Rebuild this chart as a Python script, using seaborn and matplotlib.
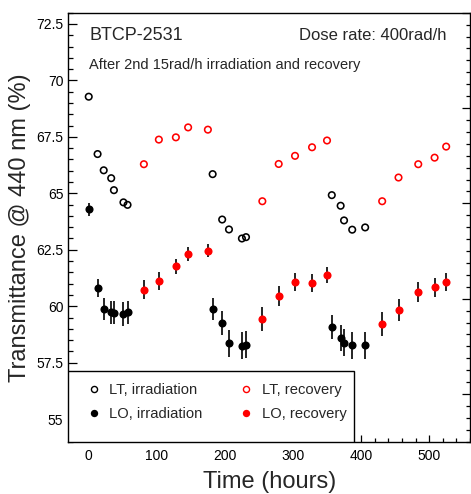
import numpy as np
import pandas as pd
import matplotlib
matplotlib.use("Agg")
import matplotlib.pyplot as plt
from matplotlib.lines import Line2D
from matplotlib.patches import Rectangle
from matplotlib.ticker import MultipleLocator, FuncFormatter
from matplotlib.transforms import blended_transform_factory
import seaborn as sns

# Irradiation steps (hours) and readings
irr_time = [0, 13, 22, 33, 37, 51, 57, 182, 196, 206, 225, 231, 357, 370, 375, 387, 406]
lt_irr = [69.28, 66.74, 66.02, 65.67, 65.14, 64.60, 64.49, 65.85, 63.84, 63.40,
          63.00, 63.06, 64.92, 64.45, 63.80, 63.39, 63.49]
lo_irr = [64.30, 60.82, 59.88, 59.73, 59.72, 59.65, 59.73, 59.88, 59.27, 58.35,
          58.26, 58.30, 59.09, 58.61, 58.39, 58.28, 58.28]
lo_irr_err = [0.29, 0.40, 0.50, 0.51, 0.50, 0.52, 0.51, 0.48, 0.53, 0.60,
              0.59, 0.61, 0.54, 0.58, 0.59, 0.60, 0.60]

# Recovery steps (hours) and readings
rec_time = [81, 103, 128, 146, 175, 255, 279, 303, 328, 350, 431, 455, 484, 508, 525]
lt_rec = [66.29, 67.38, 67.48, 67.92, 67.82, 64.65, 66.30, 66.66, 67.04, 67.34,
          64.65, 65.70, 66.29, 66.58, 67.07]
lo_rec = [60.73, 61.13, 61.77, 62.31, 62.46, 59.43, 60.45, 61.06, 61.03, 61.38,
          59.22, 59.84, 60.63, 60.85, 61.09]
lo_rec_err = [0.43, 0.40, 0.34, 0.30, 0.29, 0.53, 0.44, 0.40, 0.40, 0.37,
              0.53, 0.49, 0.43, 0.42, 0.40]

# axis steps
x_step, x_minor = 100, 20
y_step, y_minor = 2.5, 0.5
right_step, right_minor = 1.0, 0.125   # unlabelled right-hand scale
right_range = (-0.5, 4.0)

sns.set_style("white")
plt.rcParams.update({
    "font.family": ["Liberation Sans", "DejaVu Sans"],
    "axes.axisbelow": False,
    "xtick.labelsize": 10, "ytick.labelsize": 10,
    "xtick.color": "black", "ytick.color": "black",
})

frames = []
for t, v, e, kind, phase in [
    (irr_time, lt_irr, None, "LT", "irradiation"),
    (irr_time, lo_irr, lo_irr_err, "LO", "irradiation"),
    (rec_time, lt_rec, None, "LT", "recovery"),
    (rec_time, lo_rec, lo_rec_err, "LO", "recovery"),
]:
    frames.append(pd.DataFrame({
        "time": t, "value": v,
        "err": e if e is not None else [np.nan] * len(t),
        "kind": kind, "phase": phase,
    }))
df = pd.concat(frames, ignore_index=True)

W, H = 471, 494
fig = plt.figure(figsize=(W / 100, H / 100), dpi=100)
L, R, T, B = 68.3, 470.0, 12.7, 441.7
AW, AH = R - L, B - T
ax = fig.add_axes([L / W, 1 - B / H, AW / W, AH / H])

colors = {"irradiation": "black", "recovery": "red"}

for phase in ["irradiation", "recovery"]:
    c = colors[phase]
    lt = df[(df.kind == "LT") & (df.phase == phase)]
    sns.scatterplot(data=lt, x="time", y="value", ax=ax, marker="o", s=22,
                    facecolors="none", edgecolors=c, linewidth=1.15, zorder=3,
                    legend=False)
    lo = df[(df.kind == "LO") & (df.phase == phase)]
    sns.scatterplot(data=lo, x="time", y="value", ax=ax, marker="o", s=34,
                    color=c, linewidth=0, zorder=4, legend=False)

# error bars for light output
lo_all = df[df.kind == "LO"]
ax.vlines(lo_all.time, lo_all.value - lo_all.err, lo_all.value + lo_all.err,
          color="black", linewidth=1.2, zorder=2)

ax.set_xlim(-30, 560)
ax.set_ylim(54, 73)
xmaj, xmin_loc = MultipleLocator(x_step), MultipleLocator(x_minor)
ymaj, ymin_loc = MultipleLocator(y_step), MultipleLocator(y_minor)
ax.xaxis.set_major_locator(xmaj)
ax.yaxis.set_major_locator(ymaj)
ax.yaxis.set_major_formatter(FuncFormatter(lambda v, p: f"{v:g}"))
ax.xaxis.set_major_formatter(FuncFormatter(lambda v, p: f"{v:g}"))
ax.set_xlabel("")
ax.set_ylabel("")
ax.tick_params(axis="x", length=0, pad=5.3, labelsize=10)
ax.tick_params(axis="y", length=0, pad=3.6, labelsize=10)

for s in ax.spines.values():
    s.set_linewidth(1.0)
    s.set_color("black")


def tick_sets(major_loc, minor_loc, lo, hi):
    majors = [v for v in major_loc.tick_values(lo, hi) if lo <= v <= hi]
    minors = [v for v in minor_loc.tick_values(lo, hi)
              if lo <= v <= hi and not np.any(np.isclose(v, majors))]
    return majors, minors


# inward tick marks drawn along the frame
xlo, xhi = ax.get_xlim()
ylo, yhi = ax.get_ylim()
tx = blended_transform_factory(ax.transData, ax.transAxes)
ty = blended_transform_factory(ax.transAxes, ax.transData)
tick_style = dict(color="black", linewidth=0.9, zorder=7, clip_on=False)

xM, xm = tick_sets(xmaj, xmin_loc, xlo, xhi)
ax.vlines(xM, 0, 6.7 / AH, transform=tx, **tick_style)
ax.vlines(xm, 0, 3.3 / AH, transform=tx, **tick_style)

yM, ym = tick_sets(ymaj, ymin_loc, ylo, yhi)
ax.hlines(yM, 0, 8.3 / AW, transform=ty, **tick_style)
ax.hlines(ym, 0, 4.3 / AW, transform=ty, **tick_style)

# right-hand scale, mapped onto the primary range
r0, r1 = right_range
to_primary = lambda r: ylo + (np.asarray(r) - r0) * (yhi - ylo) / (r1 - r0)
rM, rm = tick_sets(MultipleLocator(right_step), MultipleLocator(right_minor),
                   r0, r1)
ax.hlines(to_primary(rM), 1 - 8.3 / AW, 1, transform=ty, **tick_style)
ax.hlines(to_primary(rm), 1 - 4.3 / AW, 1, transform=ty, **tick_style)

# annotations
ax.text((89.3 - L) / AW, (B - 35) / AH, "BTCP-2531",
        transform=ax.transAxes, fontsize=13, va="center", ha="left")
ax.text((446.7 - L) / AW, (B - 35) / AH, "Dose rate: 400rad/h",
        transform=ax.transAxes, fontsize=12, va="center", ha="right")
ax.text((89.3 - L) / AW, (B - 65) / AH,
        "After 2nd 15rad/h irradiation and recovery",
        transform=ax.transAxes, fontsize=10.5, va="center", ha="left")

fig.text(20 / W, 1 - 227.5 / H, "Transmittance @ 440 nm (%)", rotation=90,
         fontsize=17, ha="center", va="center")
fig.text(270 / W, 1 - 488.3 / H, "Time (hours)", fontsize=17,
         ha="center", va="baseline")

# legend box
ax.add_patch(Rectangle((0, 0), (354.3 - L) / AW, (B - 370.7) / AH,
                       transform=ax.transAxes, facecolor="white",
                       edgecolor="black", linewidth=1.0, zorder=8))
handles = [
    Line2D([], [], ls="none", marker="o", ms=4.4, mfc="none", mec="black", mew=1.0),
    Line2D([], [], ls="none", marker="o", ms=5.3, mfc="black", mec="black", mew=0),
    Line2D([], [], ls="none", marker="o", ms=4.4, mfc="none", mec="red", mew=1.0),
    Line2D([], [], ls="none", marker="o", ms=5.3, mfc="red", mec="red", mew=0),
]
labels = ["LT, irradiation", "LO, irradiation", "LT, recovery", "LO, recovery"]
leg = ax.legend(handles, labels, ncol=2, frameon=False, fontsize=10.6,
                loc="center",
                bbox_to_anchor=((216.5 - L) / AW, (B - 401.7) / AH),
                borderpad=0, handlelength=1.0, handletextpad=0.55,
                columnspacing=2.45, labelspacing=0.68)
leg.set_zorder(9)

fig.savefig("out.png", dpi=100)
